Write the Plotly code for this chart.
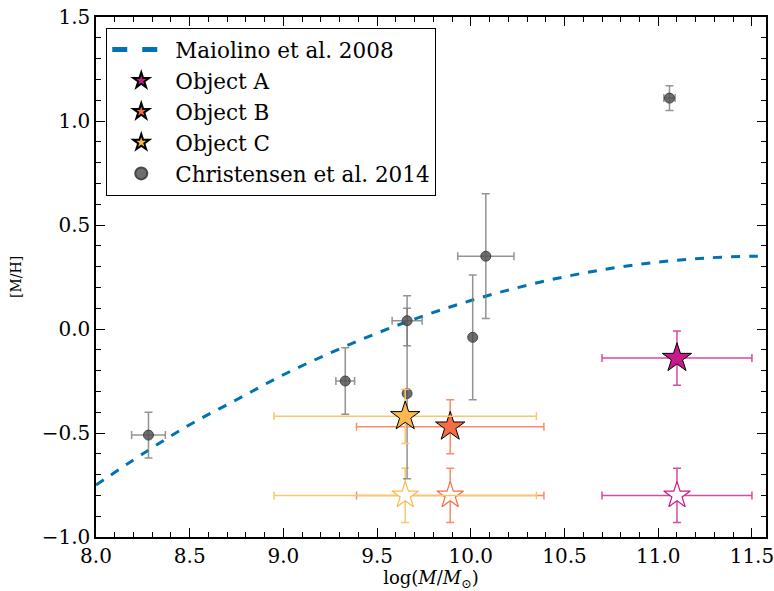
import plotly.graph_objects as go

# Maiolino et al. 2008 relation
mz_x = [8.0, 8.25, 8.5, 8.75, 9.0, 9.25, 9.5, 9.75, 10.0, 10.25, 10.5, 10.75, 11.0, 11.25, 11.5, 11.6]
mz_y = [-0.75, -0.60, -0.46, -0.34, -0.22, -0.115, -0.02, 0.064, 0.137, 0.199, 0.251, 0.292, 0.322, 0.341, 0.35, 0.35]

# Christensen et al. 2014
ch_x = [8.28, 9.33, 9.66, 9.66, 10.01, 10.08, 11.06]
ch_y = [-0.51, -0.25, 0.04, -0.31, -0.04, 0.35, 1.11]
ch_xerr = [0.09, 0.05, 0.08, 0.0, 0.0, 0.15, 0.03]
ch_yerr = [0.11, 0.16, 0.12, 0.41, 0.30, 0.30, 0.06]

# Objects: filled (measured) and open (alternative) positions
obj_names = ["Object A", "Object B", "Object C"]
obj_x = [11.10, 9.89, 9.65]
obj_xerr = [0.40, 0.50, 0.70]
obj_y = [-0.14, -0.47, -0.42]
obj_y_open = [-0.80, -0.80, -0.80]
obj_yerr = [0.13, 0.13, 0.13]
obj_color = ["#c71b8c", "#f46d43", "#fdb94e"]
obj_err_color = ["#d94aa2", "#f98b66", "#fdc66e"]

x_ticks = [8.0, 8.5, 9.0, 9.5, 10.0, 10.5, 11.0, 11.5]
y_ticks = [-1.0, -0.5, 0.0, 0.5, 1.0, 1.5]
y_tick_text = ["\u22121.0", "\u22120.5", "0.0", "0.5", "1.0", "1.5"]

FONT = "DejaVu Serif"

fig = go.Figure()

fig.add_trace(go.Scatter(
    x=mz_x, y=mz_y, mode="lines", line_shape="spline",
    line=dict(color="#0072b2", width=3, dash="dash"),
    name="Maiolino et al. 2008", legendrank=1))

# open stars (no legend)
for i in range(3):
    fig.add_trace(go.Scatter(
        x=[obj_x[i]], y=[obj_y_open[i]], mode="markers", showlegend=False,
        marker=dict(symbol="star", size=20, color="white",
                    line=dict(color=obj_color[i], width=1.2)),
        error_x=dict(type="data", array=[obj_xerr[i]], color=obj_err_color[i], thickness=1.5, width=4),
        error_y=dict(type="data", array=[obj_yerr[i]], color=obj_err_color[i], thickness=1.5, width=4)))

fig.add_trace(go.Scatter(
    x=ch_x, y=ch_y, mode="markers", name="Christensen et al. 2014", legendrank=20,
    marker=dict(symbol="circle", size=10, color="rgba(85,85,85,0.85)",
                line=dict(color="rgba(60,60,60,0.9)", width=1)),
    error_x=dict(type="data", array=ch_xerr, color="rgba(120,120,120,0.8)", thickness=1.5, width=4),
    error_y=dict(type="data", array=ch_yerr, color="rgba(120,120,120,0.8)", thickness=1.5, width=4)))

for i in range(3):
    fig.add_trace(go.Scatter(
        x=[obj_x[i]], y=[obj_y[i]], mode="markers", name=obj_names[i],
        legendrank=10 + i,
        marker=dict(symbol="star", size=22, color=obj_color[i],
                    line=dict(color="black", width=1)),
        error_x=dict(type="data", array=[obj_xerr[i]], color=obj_err_color[i], thickness=1.5, width=4),
        error_y=dict(type="data", array=[obj_yerr[i]], color=obj_err_color[i], thickness=1.5, width=4)))

axis_common = dict(
    showgrid=False, zeroline=False, showline=True, linecolor="black", linewidth=1.5,
    mirror="ticks", ticks="inside", ticklen=9, tickwidth=1.2, tickcolor="black",
    minor=dict(ticks="inside", ticklen=5, tickwidth=1, tickcolor="black", dtick=0.1),
    tickfont=dict(family=FONT, size=20, color="black"),
    automargin=False, ticklabeloverflow="allow",
)

fig.update_xaxes(range=[8.0, 11.575], tickvals=x_ticks,
                 ticktext=["%.1f" % v for v in x_ticks],
                 title=dict(text="log(<i>M</i>/<i>M</i><sub>\u2299</sub>)",
                            font=dict(family=FONT, size=18, color="black"), standoff=2),
                 **axis_common)
fig.update_yaxes(range=[-1.0, 1.5], tickvals=y_ticks, ticktext=y_tick_text,
                 title=dict(text="[M/H]", font=dict(family=FONT, size=14, color="black"), standoff=17),
                 **axis_common)

fig.update_layout(
    width=774, height=591,
    margin=dict(l=96, r=8, t=17, b=54),
    plot_bgcolor="white", paper_bgcolor="white",
    font=dict(family=FONT, color="black"),
    legend=dict(x=0.015, y=0.979, xanchor="left", yanchor="top",
                bgcolor="white", bordercolor="black", borderwidth=1.2,
                font=dict(family=FONT, size=21.5, color="black"),
                traceorder="normal", itemsizing="constant", itemwidth=58),
    showlegend=True,
)

fig.write_html("out.html", config={"displayModeBar": False},
               post_script="document.body.style.margin='0';")
